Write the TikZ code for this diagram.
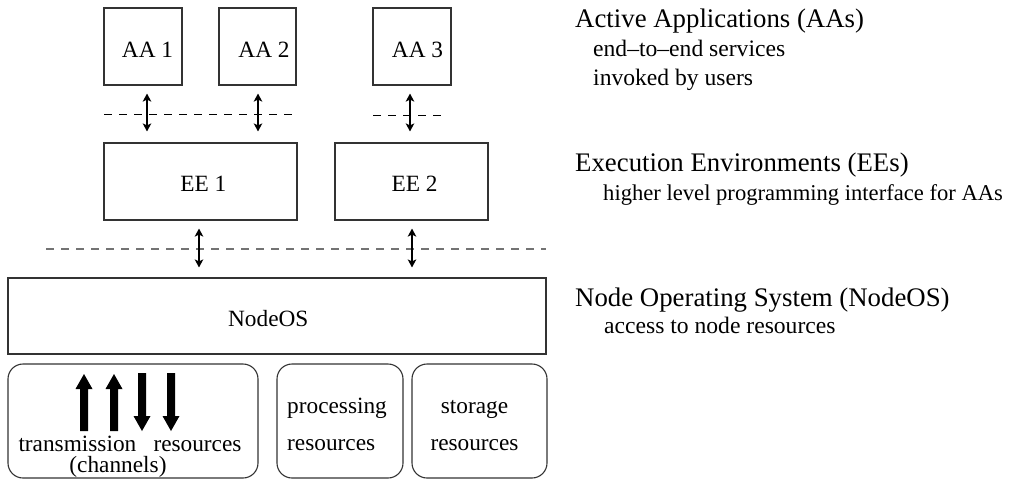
\documentclass[tikz,border=0pt]{standalone}
\usepackage{fontspec}
\setmainfont{Liberation Serif}
\usetikzlibrary{arrows.meta,calc}

\tikzset{
  layerbox/.style={draw=black!80, line width=1.1pt, inner sep=0pt},
  resbox/.style={layerbox, rounded corners=15pt},
  boxtext/.style={inner sep=0pt, anchor=base, font=\fontsize{23.3}{28}\selectfont},
  lefttext/.style={inner sep=0pt, anchor=base west, font=\fontsize{23.3}{28}\selectfont},
  headtext/.style={inner sep=0pt, anchor=base west, font=\fontsize{26.8}{32}\selectfont},
  subtext/.style={inner sep=0pt, anchor=base west, font=\fontsize{23.6}{28}\selectfont},
  dblarrow/.style={line width=1.6pt, {Stealth[length=8pt,width=8.5pt,inset=2pt]}-{Stealth[length=8pt,width=8.5pt,inset=2pt]}},
  topdash/.style={line width=1pt, black, dash pattern=on 8pt off 7pt},
  osdash/.style={line width=1.3pt, black!55, dash pattern=on 7.5pt off 7.5pt},
}

\begin{document}
\begin{tikzpicture}[x=1pt, y=-1pt]
  \path[use as bounding box] (0,0) rectangle (1018,480);

  % active applications
  \node[layerbox, minimum width=78pt, minimum height=77pt] (AA1) at (143,46.5) {};
  \node[layerbox, minimum width=77pt, minimum height=77pt] (AA2) at (257.5,46.5) {};
  \node[layerbox, minimum width=78pt, minimum height=77pt] (AA3) at (412,46.5) {};
  \node[boxtext] (tAA1) at (147.5,57) {AA 1};
  \node[boxtext] (tAA2) at (264,57) {AA 2};
  \node[boxtext] (tAA3) at (417.5,57) {AA 3};

  % execution environments
  \node[layerbox, minimum width=193pt, minimum height=77pt] (EE1) at (200.5,181.5) {};
  \node[layerbox, minimum width=153pt, minimum height=77pt] (EE2) at (411.5,181.5) {};
  \node[boxtext] (tEE1) at (203.3,191.7) {EE 1};
  \node[boxtext] (tEE2) at (414.5,191.7) {EE 2};

  % node operating system
  \node[layerbox, minimum width=538pt, minimum height=76pt] (OS) at (277,316) {};
  \node[boxtext] (tOS) at (268.3,326) {NodeOS};

  % node resources
  \node[resbox, minimum width=250pt, minimum height=114pt] (TR) at (133,421) {};
  \node[resbox, minimum width=126pt, minimum height=114pt] (PR) at (340,421) {};
  \node[resbox, minimum width=135pt, minimum height=114pt] (SR) at (479.5,421) {};

  % channel arrows inside the transmission box
  \foreach \cx in {84,114} {
    \fill (\cx-4,431) -- (\cx-4,389) -- (\cx-8.5,389) -- (\cx,374)
          -- (\cx+8.5,389) -- (\cx+4,389) -- (\cx+4,431) -- cycle;
  }
  \foreach \cx in {142,171} {
    \fill (\cx-4,373) -- (\cx-4,416) -- (\cx-8.5,416) -- (\cx,431)
          -- (\cx+8.5,416) -- (\cx+4,416) -- (\cx+4,373) -- cycle;
  }
  \node[lefttext] (tTR1) at (18.3,451) {transmission};
  \node[lefttext] (tTR2) at (153.3,451) {resources};
  \node[boxtext] (tTR3) at (118,472) {(channels)};

  \node[lefttext] (tPR1) at (287,413) {processing};
  \node[lefttext] (tPR2) at (287,450) {resources};
  \node[boxtext] (tSR1) at (474.5,413) {storage};
  \node[boxtext] (tSR2) at (474.5,450) {resources};

  % interfaces between layers
  \draw[topdash] (104,114) -- (297,114);
  \draw[topdash] (373,115) -- (443,115);
  \draw[osdash] (46,249) -- (546,249);

  \draw[dblarrow] ($(AA1.south)+(4,8)$) -- ($(AA1.south |- EE1.north)+(4,-11)$);
  \draw[dblarrow] ($(AA2.south)+(0.5,8)$) -- ($(AA2.south |- EE1.north)+(0.5,-11)$);
  \draw[dblarrow] ($(AA3.south)+(-2,8)$) -- ($(AA3.south |- EE2.north)+(-2,-11)$);
  \draw[dblarrow] ($(EE1.south)+(-1.5,8)$) -- ($(EE1.south |- OS.north)+(-1.5,-10)$);
  \draw[dblarrow] ($(EE2.south)+(0.5,8)$) -- ($(EE2.south |- OS.north)+(0.5,-10)$);

  % layer descriptions
  \node[headtext] (hAA) at (575,27.7) {Active Applications (AAs)};
  \node[subtext] (sAA1) at (593,56.7) {end–to–end services};
  \node[subtext] (sAA2) at (593,85) {invoked by users};
  \node[headtext] (hEE) at (575,171.7) {Execution Environments (EEs)};
  \node[subtext, font=\fontsize{22.6}{27}\selectfont] (sEE) at (603,200) {higher level programming interface for AAs};
  \node[headtext] (hOS) at (575,306) {Node Operating System (NodeOS)};
  \node[subtext] (sOS) at (604,333.3) {access to node resources};
\end{tikzpicture}
\end{document}
